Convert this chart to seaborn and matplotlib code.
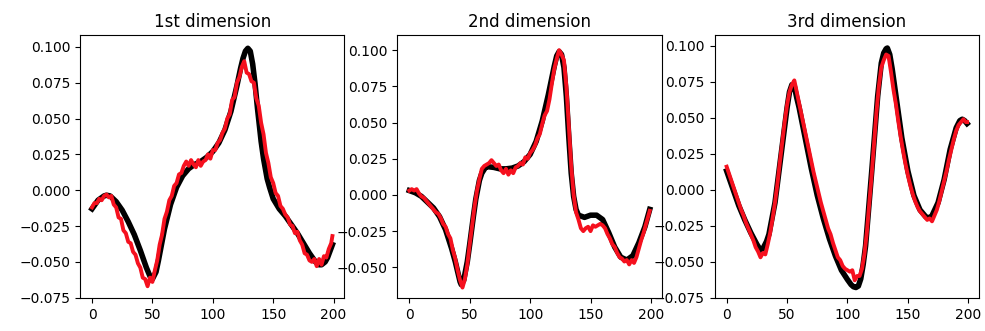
import matplotlib
matplotlib.use("Agg")
import matplotlib.pyplot as plt
import seaborn as sns

titles = ["1st dimension", "2nd dimension", "3rd dimension"]

red_x = list(range(0, 200, 2)) + [199]

# ---- panel 1 ----
black1_x = [0, 5, 10, 12, 15, 20, 25, 30, 35, 40, 45, 48, 50, 53, 55, 60, 65, 70, 75, 80,
            85, 90, 95, 100, 105, 110, 115, 120, 123, 125, 127, 129, 131, 133, 135, 137,
            140, 142, 145, 147, 150, 155, 160, 165, 170, 175, 180, 185, 188, 190, 193, 195, 199]
black1_y = [-0.013, -0.007, -0.004, -0.0035, -0.004, -0.008, -0.014, -0.022, -0.031, -0.042,
            -0.054, -0.060, -0.062, -0.057, -0.049, -0.027, -0.010, 0.002, 0.010, 0.015,
            0.018, 0.020, 0.023, 0.027, 0.033, 0.042, 0.055, 0.073, 0.085, 0.092,
            0.097, 0.099, 0.097, 0.088, 0.074, 0.057, 0.034, 0.022, 0.008, 0.002, -0.006,
            -0.013, -0.018, -0.024, -0.030, -0.037, -0.044, -0.050, -0.052, -0.052, -0.050,
            -0.047, -0.038]
red1_y = [-0.012, -0.009, -0.009, -0.006, -0.007, -0.004, -0.003, -0.005, -0.004, -0.010,
          -0.012, -0.019, -0.020, -0.028, -0.030, -0.036, -0.037, -0.043, -0.045, -0.051,
          -0.054, -0.061, -0.062, -0.067, -0.061, -0.064, -0.056, -0.049, -0.038, -0.031,
          -0.020, -0.015, -0.007, -0.004, 0.003, 0.005, 0.011, 0.012, 0.017, 0.020,
          0.017, 0.021, 0.018, 0.016, 0.021, 0.017, 0.020, 0.021, 0.025, 0.022,
          0.028, 0.028, 0.033, 0.035, 0.040, 0.043, 0.050, 0.053, 0.063, 0.065,
          0.075, 0.079, 0.086, 0.090, 0.082, 0.081, 0.076, 0.075, 0.064, 0.059,
          0.047, 0.039, 0.026, 0.019, 0.009, 0.005, -0.002, -0.004, -0.011, -0.013,
          -0.017, -0.019, -0.024, -0.025, -0.030, -0.029, -0.035, -0.038, -0.044, -0.045,
          -0.049, -0.050, -0.048, -0.053, -0.048, -0.052, -0.046, -0.047, -0.041, -0.037,
          -0.032]

# ---- panel 2 ----
black2_x = [0, 5, 10, 15, 20, 25, 30, 35, 38, 40, 42, 43, 45, 48, 50, 53, 55, 58, 60, 63,
            65, 70, 75, 80, 85, 90, 95, 100, 105, 110, 115, 118, 120, 122, 124, 126, 128,
            130, 132, 134, 136, 138, 140, 145, 150, 155, 160, 165, 170, 175, 180, 185,
            190, 195, 199]
black2_y = [0.003, 0.0015, -0.001, -0.005, -0.009, -0.015, -0.024, -0.037, -0.046, -0.053,
            -0.060, -0.062, -0.059, -0.046, -0.034, -0.015, -0.003, 0.010, 0.015, 0.019,
            0.0195, 0.019, 0.018, 0.018, 0.0185, 0.020, 0.023, 0.028, 0.037, 0.051,
            0.069, 0.081, 0.089, 0.096, 0.099, 0.097, 0.088, 0.068, 0.040, 0.015,
            -0.001, -0.010, -0.014, -0.0155, -0.014, -0.014, -0.017, -0.026, -0.036, -0.043,
            -0.045, -0.042, -0.033, -0.022, -0.010]
red2_y = [0.003, 0.004, 0.003, 0.004, 0.001, -0.001, -0.002, -0.004, -0.006, -0.008,
          -0.010, -0.012, -0.013, -0.016, -0.020, -0.022, -0.027, -0.030, -0.038, -0.044,
          -0.052, -0.059, -0.064, -0.058, -0.048, -0.034, -0.021, -0.008, 0.003, 0.011,
          0.018, 0.020, 0.021, 0.022, 0.024, 0.022, 0.020, 0.021, 0.017, 0.015,
          0.018, 0.014, 0.017, 0.015, 0.019, 0.020, 0.022, 0.021, 0.026, 0.025,
          0.029, 0.031, 0.034, 0.039, 0.042, 0.049, 0.055, 0.058, 0.066, 0.077,
          0.087, 0.094, 0.100, 0.097, 0.093, 0.075, 0.048, 0.020, 0.000, -0.012,
          -0.017, -0.023, -0.025, -0.023, -0.022, -0.025, -0.021, -0.022, -0.021, -0.020,
          -0.021, -0.023, -0.027, -0.030, -0.034, -0.036, -0.040, -0.043, -0.044, -0.046,
          -0.045, -0.048, -0.045, -0.047, -0.043, -0.037, -0.031, -0.026, -0.020, -0.014,
          -0.011]

# ---- panel 3 ----
black3_x = [0, 5, 10, 15, 20, 25, 28, 30, 33, 35, 40, 45, 50, 52, 54, 56, 58, 60, 65, 70,
            75, 80, 85, 90, 95, 100, 103, 105, 107, 109, 111, 113, 115, 120, 125, 128,
            130, 132, 133, 135, 137, 140, 145, 150, 155, 160, 165, 168, 170, 175, 180,
            185, 190, 193, 195, 197, 199]
black3_y = [0.013, 0.001, -0.011, -0.021, -0.030, -0.038, -0.042, -0.041, -0.036, -0.031,
            -0.009, 0.024, 0.057, 0.068, 0.073, 0.072, 0.064, 0.057, 0.036, 0.015,
            -0.004, -0.020, -0.034, -0.046, -0.056, -0.0625, -0.066, -0.0675, -0.068, -0.067,
            -0.062, -0.052, -0.039, 0.012, 0.065, 0.088, 0.095, 0.098, 0.0985, 0.094,
            0.084, 0.066, 0.036, 0.013, -0.004, -0.014, -0.019, -0.0195, -0.018, -0.009,
            0.007, 0.028, 0.043, 0.048, 0.049, 0.048, 0.046]
red3_y = [0.016, 0.011, 0.006, 0.001, -0.004, -0.009, -0.014, -0.018, -0.023, -0.027,
          -0.031, -0.035, -0.040, -0.043, -0.047, -0.044, -0.045, -0.038, -0.030, -0.020,
          -0.009, 0.004, 0.019, 0.033, 0.047, 0.059, 0.068, 0.073, 0.076, 0.068,
          0.060, 0.052, 0.044, 0.036, 0.028, 0.020, 0.012, 0.005, -0.002, -0.009,
          -0.015, -0.021, -0.027, -0.031, -0.037, -0.042, -0.047, -0.049, -0.053, -0.055,
          -0.056, -0.057, -0.056, -0.063, -0.060, -0.060, -0.055, -0.045, -0.030, -0.010,
          0.010, 0.032, 0.054, 0.072, 0.085, 0.090, 0.094, 0.093, 0.082, 0.070,
          0.060, 0.048, 0.037, 0.027, 0.018, 0.010, 0.003, -0.003, -0.008, -0.012,
          -0.015, -0.017, -0.019, -0.021, -0.020, -0.022, -0.018, -0.014, -0.008, -0.001,
          0.006, 0.013, 0.021, 0.028, 0.035, 0.041, 0.045, 0.047, 0.049, 0.047,
          0.047]

black_xs = [black1_x, black2_x, black3_x]
black_ys = [black1_y, black2_y, black3_y]
red_ys = [red1_y, red2_y, red3_y]
ylims = [(-0.0752, 0.1082), (-0.0712, 0.1104), (-0.0753, 0.1075)]
yticks = [[-0.075, -0.05, -0.025, 0, 0.025, 0.05, 0.075, 0.1],
          [-0.05, -0.025, 0, 0.025, 0.05, 0.075, 0.1],
          [-0.075, -0.05, -0.025, 0, 0.025, 0.05, 0.075, 0.1]]

fig, axes = plt.subplots(1, 3, figsize=(9.85, 3.31), dpi=100)
fig.subplots_adjust(left=0.0812, right=0.994, top=0.894, bottom=0.0997, wspace=0.2)

for i, ax in enumerate(axes):
    sns.lineplot(x=black_xs[i], y=black_ys[i], color="black", linewidth=4.0,
                 estimator=None, sort=False, ax=ax)
    sns.lineplot(x=red_x, y=red_ys[i], color="#f5101e", linewidth=2.8,
                 estimator=None, sort=False, ax=ax)
    ax.set_title(titles[i], fontsize=12)
    ax.set_xlim(-9.95, 208.95)
    ax.set_ylim(*ylims[i])
    ax.set_xticks([0, 50, 100, 150, 200])
    ax.set_yticks(yticks[i])
    ax.set_yticklabels([f"{v:.3f}".replace("-", "\u2212") for v in yticks[i]])
    ax.set_xlabel("")
    ax.set_ylabel("")

fig.savefig("out.png", dpi=100)
